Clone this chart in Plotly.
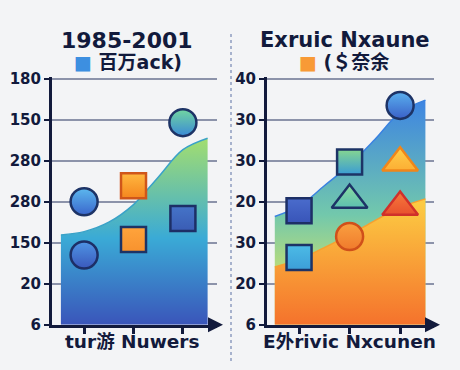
import plotly.graph_objects as go

# ---------------- data ----------------
categories = [0, 1, 2]
y_tick_vals = [0, 1, 2, 3, 4, 5, 6]
left_y_ticks = ["6", "20", "150", "280", "280", "150", "180"]
right_y_ticks = ["6", "20", "30", "20", "30", "30", "40"]

left_area_x = [-0.47, 0, 0.5, 1, 1.5, 2, 2.5]
left_area_y = [2.19, 2.27, 2.50, 2.93, 3.60, 4.27, 4.55]

right_top_x = [-0.48, 0, 0.5, 1, 1.5, 2, 2.5]
right_top_y = [2.64, 2.89, 3.39, 3.90, 4.52, 5.18, 5.48]
right_bot_x = [-0.48, 0, 0.5, 1, 1.5, 2, 2.5]
right_bot_y = [1.41, 1.59, 1.88, 2.19, 2.54, 2.86, 3.07]

left_points_x = [0, 0, 1, 1, 2, 2]
left_points_y = [3.0, 1.70, 3.39, 2.08, 4.93, 2.59]
left_symbols = ["circle", "circle", "square", "square", "circle", "square"]
left_colors = ["#5cb8ee", "#4f95e4", "#ffb840", "#ffa43c", "#72d6a0", "#4574c8"]
left_grad = ["#3a66cc", "#3a58bc", "#f5861e", "#f8922e", "#3a8ad6", "#3a5cb4"]
left_lines = ["#1d3366", "#1d2f66", "#d0561a", "#1d3366", "#1d3366", "#1d2f66"]

right_points_x = [0, 0, 1, 1, 1, 2, 2, 2]
right_points_y = [2.78, 1.64, 3.97, 3.04, 2.15, 5.35, 3.95, 2.87]
right_symbols = ["square", "square", "square", "triangle-up", "circle",
                 "circle", "triangle-up", "triangle-up"]
right_colors = ["#4a6ccc", "#4cbbe6", "#86d690", "#8cdca0", "#f9a040",
                "#5ab0ee", "#ffd04a", "#f77a3c"]
right_grad = ["#3854b8", "#3c9ed8", "#3a9cd4", "#5cc0b0", "#f07a2c",
              "#3a60c8", "#fcae34", "#e8502e"]
right_lines = ["#1d2f66", "#1d3366", "#1d3366", "#1d3366", "#d0501a",
               "#1d3366", "#f0861a", "#d0302a"]

NAVY = "#121a3c"
GRID = "#8c93aa"

fig = go.Figure()

fig.add_trace(go.Scatter(
    x=left_area_x, y=left_area_y, xaxis="x", yaxis="y",
    mode="lines", line=dict(color="#3aa2c8", width=1.5, shape="spline"),
    fill="tozeroy",
    fillgradient=dict(type="vertical", start=0, stop=4.55,
                      colorscale=[[0, "#3a4ab6"], [0.5, "#3aaad6"], [1, "#a0dc72"]]),
    hoverinfo="skip", showlegend=False))

fig.add_trace(go.Scatter(
    x=right_top_x, y=right_top_y, xaxis="x2", yaxis="y2",
    mode="lines", line=dict(color="#3a82e0", width=1.5, shape="spline"),
    fill="tozeroy",
    fillgradient=dict(type="vertical", start=1.4, stop=5.5,
                      colorscale=[[0, "#c2de74"], [0.35, "#72c8ac"], [1, "#3d84e2"]]),
    hoverinfo="skip", showlegend=False))

fig.add_trace(go.Scatter(
    x=right_bot_x, y=right_bot_y, xaxis="x2", yaxis="y2",
    mode="lines", line=dict(color="#f6a030", width=1.5, shape="spline"),
    fill="tozeroy",
    fillgradient=dict(type="vertical", start=0, stop=3.07,
                      colorscale=[[0, "#f46a2a"], [1, "#fcca42"]]),
    hoverinfo="skip", showlegend=False))

for i in range(len(left_points_x)):
    fig.add_trace(go.Scatter(
        x=[left_points_x[i]], y=[left_points_y[i]], xaxis="x", yaxis="y",
        mode="markers",
        marker=dict(symbol=left_symbols[i], size=27 if left_symbols[i] == "circle" else 25,
                    color=left_colors[i],
                    gradient=dict(type="vertical", color=left_grad[i]),
                    line=dict(color=left_lines[i], width=2.5)),
        hoverinfo="skip", showlegend=False))

for i in range(len(right_points_x)):
    s = right_symbols[i]
    size = 27 if s == "circle" else (31 if s == "triangle-up" else 25)
    fig.add_trace(go.Scatter(
        x=[right_points_x[i]], y=[right_points_y[i]], xaxis="x2", yaxis="y2",
        mode="markers",
        marker=dict(symbol=s, size=size, color=right_colors[i],
                    gradient=dict(type="vertical", color=right_grad[i]),
                    line=dict(color=right_lines[i], width=2.5)),
        hoverinfo="skip", showlegend=False))

ydom = [38 / 370, 1 - 72.9 / 370]
common_x = dict(showgrid=False, zeroline=False, showline=True, linecolor=NAVY,
                linewidth=3, ticks="outside", ticklen=6, tickwidth=2.5,
                tickcolor=NAVY, tickvals=categories, ticktext=["", "", ""],
                fixedrange=True)
common_y = dict(showgrid=True, gridcolor=GRID, gridwidth=1.5, zeroline=False,
                showline=True, linecolor=NAVY, linewidth=3, ticks="outside",
                ticklen=5, tickwidth=2, tickcolor=NAVY, range=[0, 6.05],
                tickvals=y_tick_vals, domain=ydom,
                tickfont=dict(family="DejaVu Sans", size=15, color=NAVY),
                fixedrange=True)

fig.update_layout(
    width=460, height=370,
    margin=dict(l=0, r=0, t=0, b=0),
    paper_bgcolor="#f3f4f6", plot_bgcolor="rgba(0,0,0,0)",
    xaxis=dict(common_x, domain=[52 / 460, 217 / 460], range=[-0.65, 2.69], anchor="y"),
    yaxis=dict(common_y, ticktext=[f"<b>{t}</b>" for t in left_y_ticks], anchor="x"),
    xaxis2=dict(common_x, domain=[267 / 460, 434 / 460], range=[-0.634, 2.67], anchor="y2"),
    yaxis2=dict(common_y, ticktext=[f"<b>{t}</b>" for t in right_y_ticks], anchor="x2"),
)

def ann(text, x, y, size, font="DejaVu Sans"):
    fig.add_annotation(text=text, x=x / 460, y=1 - y / 370, xref="paper", yref="paper",
                       showarrow=False, xanchor="center", yanchor="middle",
                       font=dict(family=font, size=size, color=NAVY))

ann("<b>1985-2001</b>", 127, 35, 22)
ann("<b>Exruic Nxaune</b>", 345, 35, 21)
ann("<b><span style='color:#3d8fe0'>■</span> 百万ack)</b>", 128, 57, 19,
    "DejaVu Sans, Noto Sans CJK SC")
ann("<b><span style='color:#f89a36'>■</span> (＄奈余</b>", 344, 57, 19,
    "DejaVu Sans, Noto Sans CJK SC")
ann("<b>tur游 Nuwers</b>", 132, 350, 18.5, "DejaVu Sans, Noto Sans CJK SC")
ann("<b>E外rivic Nxcunen</b>", 349, 350, 18.5, "DejaVu Sans, Noto Sans CJK SC")

for xe, xs in [(223, 212), (440, 429)]:
    fig.add_annotation(x=xe / 460, y=38 / 370, xref="paper", yref="paper",
                       ax=xs - xe, ay=0, showarrow=True, arrowhead=2, arrowsize=1,
                       arrowwidth=3, arrowcolor=NAVY, text="")

fig.add_shape(type="line", xref="paper", yref="paper", x0=231 / 460, x1=231 / 460,
              y0=0, y1=1 - 28 / 370, line=dict(color="#8e9cc0", width=1.5, dash="dot"))

fig.write_html("out.html", config={"displayModeBar": False},
               post_script="document.body.style.margin='0';document.body.style.background='#f3f4f6';")
